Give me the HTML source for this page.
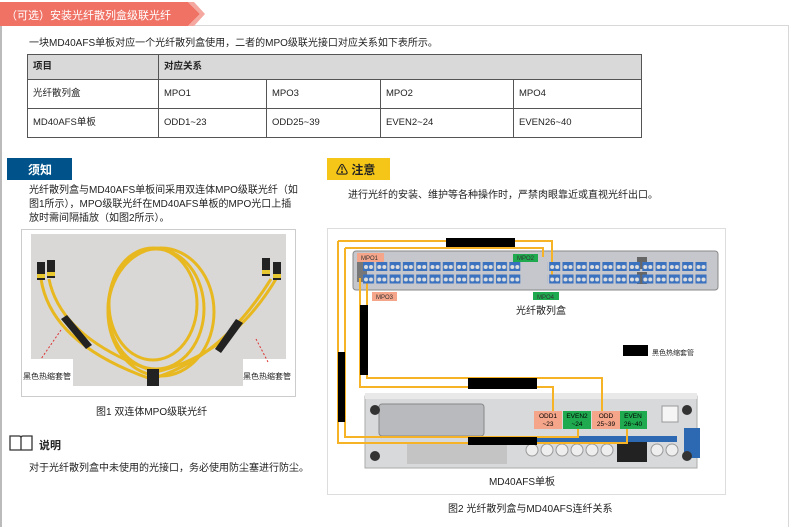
<!DOCTYPE html>
<html><head><meta charset="utf-8"><style>
*{margin:0;padding:0;box-sizing:border-box}
body{width:792px;height:527px;background:#fff;position:relative;overflow:hidden;font-family:"Liberation Sans","Noto Sans CJK SC",sans-serif;color:#222}
.a{position:absolute;white-space:nowrap}
table{position:absolute;left:27px;top:54px;border-collapse:collapse;font-size:9.5px}
td{border:1px solid #555;padding:0 0 0 5px;height:29px;vertical-align:middle;line-height:12px}
tr.h td{background:#d9d9d9;height:25px;font-weight:bold}
.t{font-size:10px}
</style></head><body>
<div class="a" style="left:0;top:25px;width:789px;height:502px;border-top:1px solid #d8d8d8;border-right:1px solid #d8d8d8;border-left:2px solid #bbb"></div>
<svg class="a" style="left:0;top:2px" width="205" height="24"><polygon points="0,0 188,0 200,12 188,24 0,24" fill="#ef7265"/><polygon points="188,0 194,0 205,12 194,24 188,24 200,12" fill="#f4a89f"/></svg>
<div class="a" style="left:6px;top:7px;color:#fff;font-size:11px">（可选）安装光纤散列盒级联光纤</div>
<div class="a t" style="left:29px;top:34px">一块MD40AFS单板对应一个光纤散列盒使用，二者的MPO级联光接口对应关系如下表所示。</div>
<table>
<tr class="h"><td style="width:131px">项目</td><td colspan="4">对应关系</td></tr>
<tr><td>光纤散列盒</td><td style="width:108px">MPO1</td><td style="width:114px">MPO3</td><td style="width:133px">MPO2</td><td style="width:128px">MPO4</td></tr>
<tr><td>MD40AFS单板</td><td>ODD1~23</td><td>ODD25~39</td><td>EVEN2~24</td><td>EVEN26~40</td></tr>
</table>
<div class="a" style="left:7px;top:158px;width:65px;height:22px;background:#00538a;color:#fff;font-size:12px;font-weight:bold;padding:3px 0 0 21px">须知</div>
<div class="a" style="left:327px;top:158px;width:63px;height:22px;background:#f5c518;font-size:12px;font-weight:bold;padding:3px 0 0 9px">⚠ 注意</div>
<div class="a t" style="left:29px;top:184px;line-height:14px">光纤散列盒与MD40AFS单板间采用双连体MPO级联光纤（如<br>图1所示），MPO级联光纤在MD40AFS单板的MPO光口上插<br>放时需间隔插放（如图2所示）。</div>
<div class="a t" style="left:348px;top:186px">进行光纤的安装、维护等各种操作时，严禁肉眼靠近或直视光纤出口。</div>
<!-- fig1 -->
<div class="a" style="left:21px;top:229px;width:275px;height:168px;border:1px solid #ccc"></div>
<svg class="a" style="left:31px;top:234px" width="255" height="152">
<rect width="255" height="152" fill="#d9d8d6"/>
<rect x="0" y="125" width="42" height="27" fill="#fff"/><rect x="212" y="125" width="43" height="27" fill="#fff"/>
<g fill="none" stroke="#e8b820" stroke-width="3">
<ellipse cx="125" cy="75" rx="48" ry="60"/><ellipse cx="130" cy="78" rx="53" ry="64"/><ellipse cx="122" cy="70" rx="44" ry="56"/>
<path d="M10,45 Q20,110 120,145 Q190,125 240,45"/><path d="M18,45 Q30,105 125,138 Q200,120 245,45"/>
</g>
<g fill="#222"><rect x="6" y="28" width="8" height="18"/><rect x="16" y="26" width="8" height="18"/><rect x="231" y="24" width="8" height="18"/><rect x="242" y="28" width="8" height="18"/><rect x="116" y="135" width="12" height="17"/>
<path d="M30,85 l6,-4 l25,30 l-6,4z"/><path d="M205,85 l7,4 l-22,30 l-6,-4z"/></g>
<g fill="#e8c830"><rect x="6" y="40" width="8" height="4"/><rect x="16" y="38" width="8" height="4"/><rect x="231" y="36" width="8" height="4"/><rect x="242" y="40" width="8" height="4"/></g>
<g stroke="#d33" stroke-dasharray="2,2" fill="none"><line x1="30" y1="96" x2="10" y2="125"/><line x1="225" y1="105" x2="237" y2="128"/></g>
</svg>
<div class="a" style="left:23px;top:371px;font-size:8px">黑色热缩套管</div>
<div class="a" style="left:243px;top:371px;font-size:8px">黑色热缩套管</div>
<div class="a" style="left:96px;top:403px;font-size:10px">图1 双连体MPO级联光纤</div>
<svg class="a" style="left:8px;top:434px" width="26" height="18"><path d="M2,2 h9 q2,0 2,2 v12 h-11z M24,2 h-9 q-2,0 -2,2 v12 h11z" fill="none" stroke="#333" stroke-width="1.3"/></svg>
<div class="a" style="left:39px;top:437px;font-size:11px;font-weight:bold">说明</div>
<div class="a t" style="left:29px;top:459px">对于光纤散列盒中未使用的光接口，务必使用防尘塞进行防尘。</div>
<!-- fig2 -->
<div class="a" style="left:327px;top:228px;width:399px;height:267px;border:1px solid #ddd"></div>
<svg class="a" style="left:327px;top:228px" width="399" height="267">
<rect x="26" y="23" width="365" height="39" rx="3" fill="#c5c7cc" stroke="#888"/>
<rect x="30" y="32" width="10" height="22" fill="#777"/>
<rect x="310" y="29" width="10" height="12" fill="#666"/><rect x="310" y="44" width="10" height="12" fill="#666"/>
<rect x="38" y="168" width="332" height="72" fill="#d8d9db" stroke="#aaa"/>
<rect x="38" y="165" width="332" height="6" fill="#e9e9e9"/>
<rect x="52" y="176" width="105" height="32" rx="3" fill="#b9babd" stroke="#888"/>
<rect x="80" y="214" width="100" height="22" fill="#c4c4c4"/>
<rect x="190" y="208" width="160" height="6" fill="#2d69b2"/>
<g fill="#eee" stroke="#999"><circle cx="205" cy="222" r="6"/><circle cx="220" cy="222" r="6"/><circle cx="235" cy="222" r="6"/><circle cx="250" cy="222" r="6"/><circle cx="265" cy="222" r="6"/><circle cx="280" cy="222" r="6"/><circle cx="330" cy="222" r="6"/><circle cx="345" cy="222" r="6"/></g>
<rect x="290" y="214" width="30" height="20" fill="#222"/>
<rect x="357" y="200" width="16" height="30" fill="#2d69b2"/>
<circle cx="48" cy="182" r="5" fill="#333"/><circle cx="360" cy="182" r="5" fill="#333"/><circle cx="48" cy="228" r="5" fill="#333"/><circle cx="360" cy="228" r="5" fill="#333"/>
<rect x="335" y="178" width="16" height="16" fill="#f5f5f5" stroke="#999"/>
<g fill="none" stroke="#f5b325" stroke-width="2">
<polyline points="11,13 225,13 225,50"/><polyline points="11,13 11,215 300,215 300,197"/>
<polyline points="18,20 216,20 216,29"/><polyline points="18,20 18,209 251,209 251,194"/>
<polyline points="33,50 33,159 226,159 226,184"/>
<polyline points="40,50 40,150 275,150 275,184"/>
</g>
<g fill="#000"><rect x="119" y="10" width="69" height="9"/><rect x="11" y="124" width="7" height="70"/><rect x="33" y="77" width="8" height="70"/><rect x="141" y="150" width="69" height="11"/><rect x="141" y="209" width="69" height="8"/><rect x="296" y="117" width="25" height="11"/></g>
<g font-size="6" fill="#333"><rect x="30" y="25" width="27" height="9" fill="#f4a58a"/><text x="34" y="32">MPO1</text>
<rect x="45" y="64" width="25" height="9" fill="#f4a58a"/><text x="49" y="71">MPO3</text>
<rect x="186" y="26" width="25" height="8" fill="#1faa50"/><text x="190" y="32">MPO2</text>
<rect x="206" y="64" width="26" height="8" fill="#1faa50"/><text x="210" y="71">MPO4</text></g>
<g font-size="6.5" text-anchor="middle"><rect x="207" y="183" width="28" height="18" fill="#f4a58a"/><text x="221" y="190">ODD1</text><text x="221" y="198">~23</text>
<rect x="236" y="183" width="28" height="18" fill="#1faa50"/><text x="250" y="190">EVEN2</text><text x="250" y="198">~24</text>
<rect x="265" y="183" width="28" height="18" fill="#f4a58a"/><text x="279" y="190">ODD</text><text x="279" y="198">25~39</text>
<rect x="293" y="183" width="27" height="18" fill="#1faa50"/><text x="306" y="190">EVEN</text><text x="306" y="198">26~40</text></g>
<text x="325" y="127" font-size="7" fill="#222">黑色热缩套管</text>
<text x="214" y="86" font-size="10" text-anchor="middle" fill="#222">光纤散列盒</text>
<text x="195" y="257" font-size="10" text-anchor="middle" fill="#222">MD40AFS单板</text>
</svg>
<svg class="a" style="left:362px;top:261px" width="345" height="26">
<defs><pattern id="q" width="13.3" height="12.5" patternUnits="userSpaceOnUse"><rect x="1" y="1" width="11" height="9" fill="#3b72c0"/><circle cx="4" cy="6" r="2" fill="#ddd"/><circle cx="9" cy="6" r="2" fill="#ddd"/></pattern></defs>
<rect x="0" y="0" width="160" height="25" fill="url(#q)"/><rect x="185" y="0" width="160" height="25" fill="url(#q)"/>
</svg>
<div class="a" style="left:448px;top:500px;font-size:10px">图2 光纤散列盒与MD40AFS连纤关系</div>
</body></html>
